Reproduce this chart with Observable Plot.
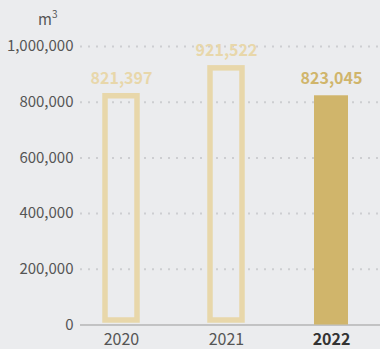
<!DOCTYPE html>
<html><head><meta charset="utf-8">
<script src="https://cdn.jsdelivr.net/npm/d3@7"></script>
<script src="https://cdn.jsdelivr.net/npm/@observablehq/plot@0.6"></script>
<style>
html,body{margin:0;padding:0;background:#ebecee;}
#wrap{position:relative;width:380px;height:349px;font-family:"Noto Sans CJK KR","Noto Sans",sans-serif;}
#unit{position:absolute;left:38px;top:11px;font-size:15px;color:#555;line-height:1;}
#unit sup{font-size:10px;vertical-align:top;position:relative;top:-2px;}
</style></head><body><div id="wrap"><div id="unit">m<sup>3</sup></div></div>
<script>
const years = ["2020", "2021", "2022"];
const volumes = [821397, 921522, 823045];
const yTicks = [0, 200000, 400000, 600000, 800000, 1000000];
const highlightYear = "2022";

const data = years.map((year, i) => ({year, volume: volumes[i]}));
const fmt = d3.format(",");
const light = "#e8d7aa";
const dark = "#d0b56b";
const font = '"Noto Sans CJK KR","Noto Sans",sans-serif';

const chart = Plot.plot({
  width: 380,
  height: 349,
  marginTop: 46,
  marginBottom: 24.5,
  marginLeft: 80,
  marginRight: 8.5,
  style: {background: "transparent", color: "#555", fontFamily: font},
  x: {domain: years, paddingInner: 0.677, paddingOuter: 0.2235, axis: null},
  y: {domain: [0, 1000000], axis: null},
  marks: [
    Plot.ruleY(yTicks.filter(d => d > 0), {stroke: "#cdced1", strokeWidth: 2, strokeDasharray: "2,6", insetRight: -8.5}),
    Plot.ruleY([0], {stroke: "#999", strokeWidth: 1, insetRight: -8.5}),
    Plot.axisY({ticks: yTicks, tickFormat: fmt, tickSize: 0, tickPadding: 7, fontSize: 15, label: null}),
    Plot.barY(data.filter(d => d.year !== highlightYear), {x: "year", y: "volume", fill: "none", stroke: light, strokeWidth: 5.5, insetLeft: 1, insetRight: 1, insetBottom: 4.5}),
    Plot.barY(data.filter(d => d.year === highlightYear), {x: "year", y: "volume", fill: dark}),
    Plot.text(data.filter(d => d.year !== highlightYear), {x: "year", y: "volume", text: d => fmt(d.volume), dy: -17, fill: light, fontSize: 16, fontWeight: "bold"}),
    Plot.text(data.filter(d => d.year === highlightYear), {x: "year", y: "volume", text: d => fmt(d.volume), dy: -17, fill: dark, fontSize: 16, fontWeight: "bold"}),
    Plot.text(data.filter(d => d.year !== highlightYear), {x: "year", text: "year", frameAnchor: "bottom", dy: 19.5, fill: "#555", fontSize: 16}),
    Plot.text(data.filter(d => d.year === highlightYear), {x: "year", text: "year", frameAnchor: "bottom", dy: 19.5, fill: "#333", fontSize: 16, fontWeight: "bold"})
  ]
});
document.getElementById("wrap").appendChild(chart);
</script>
</body></html>
